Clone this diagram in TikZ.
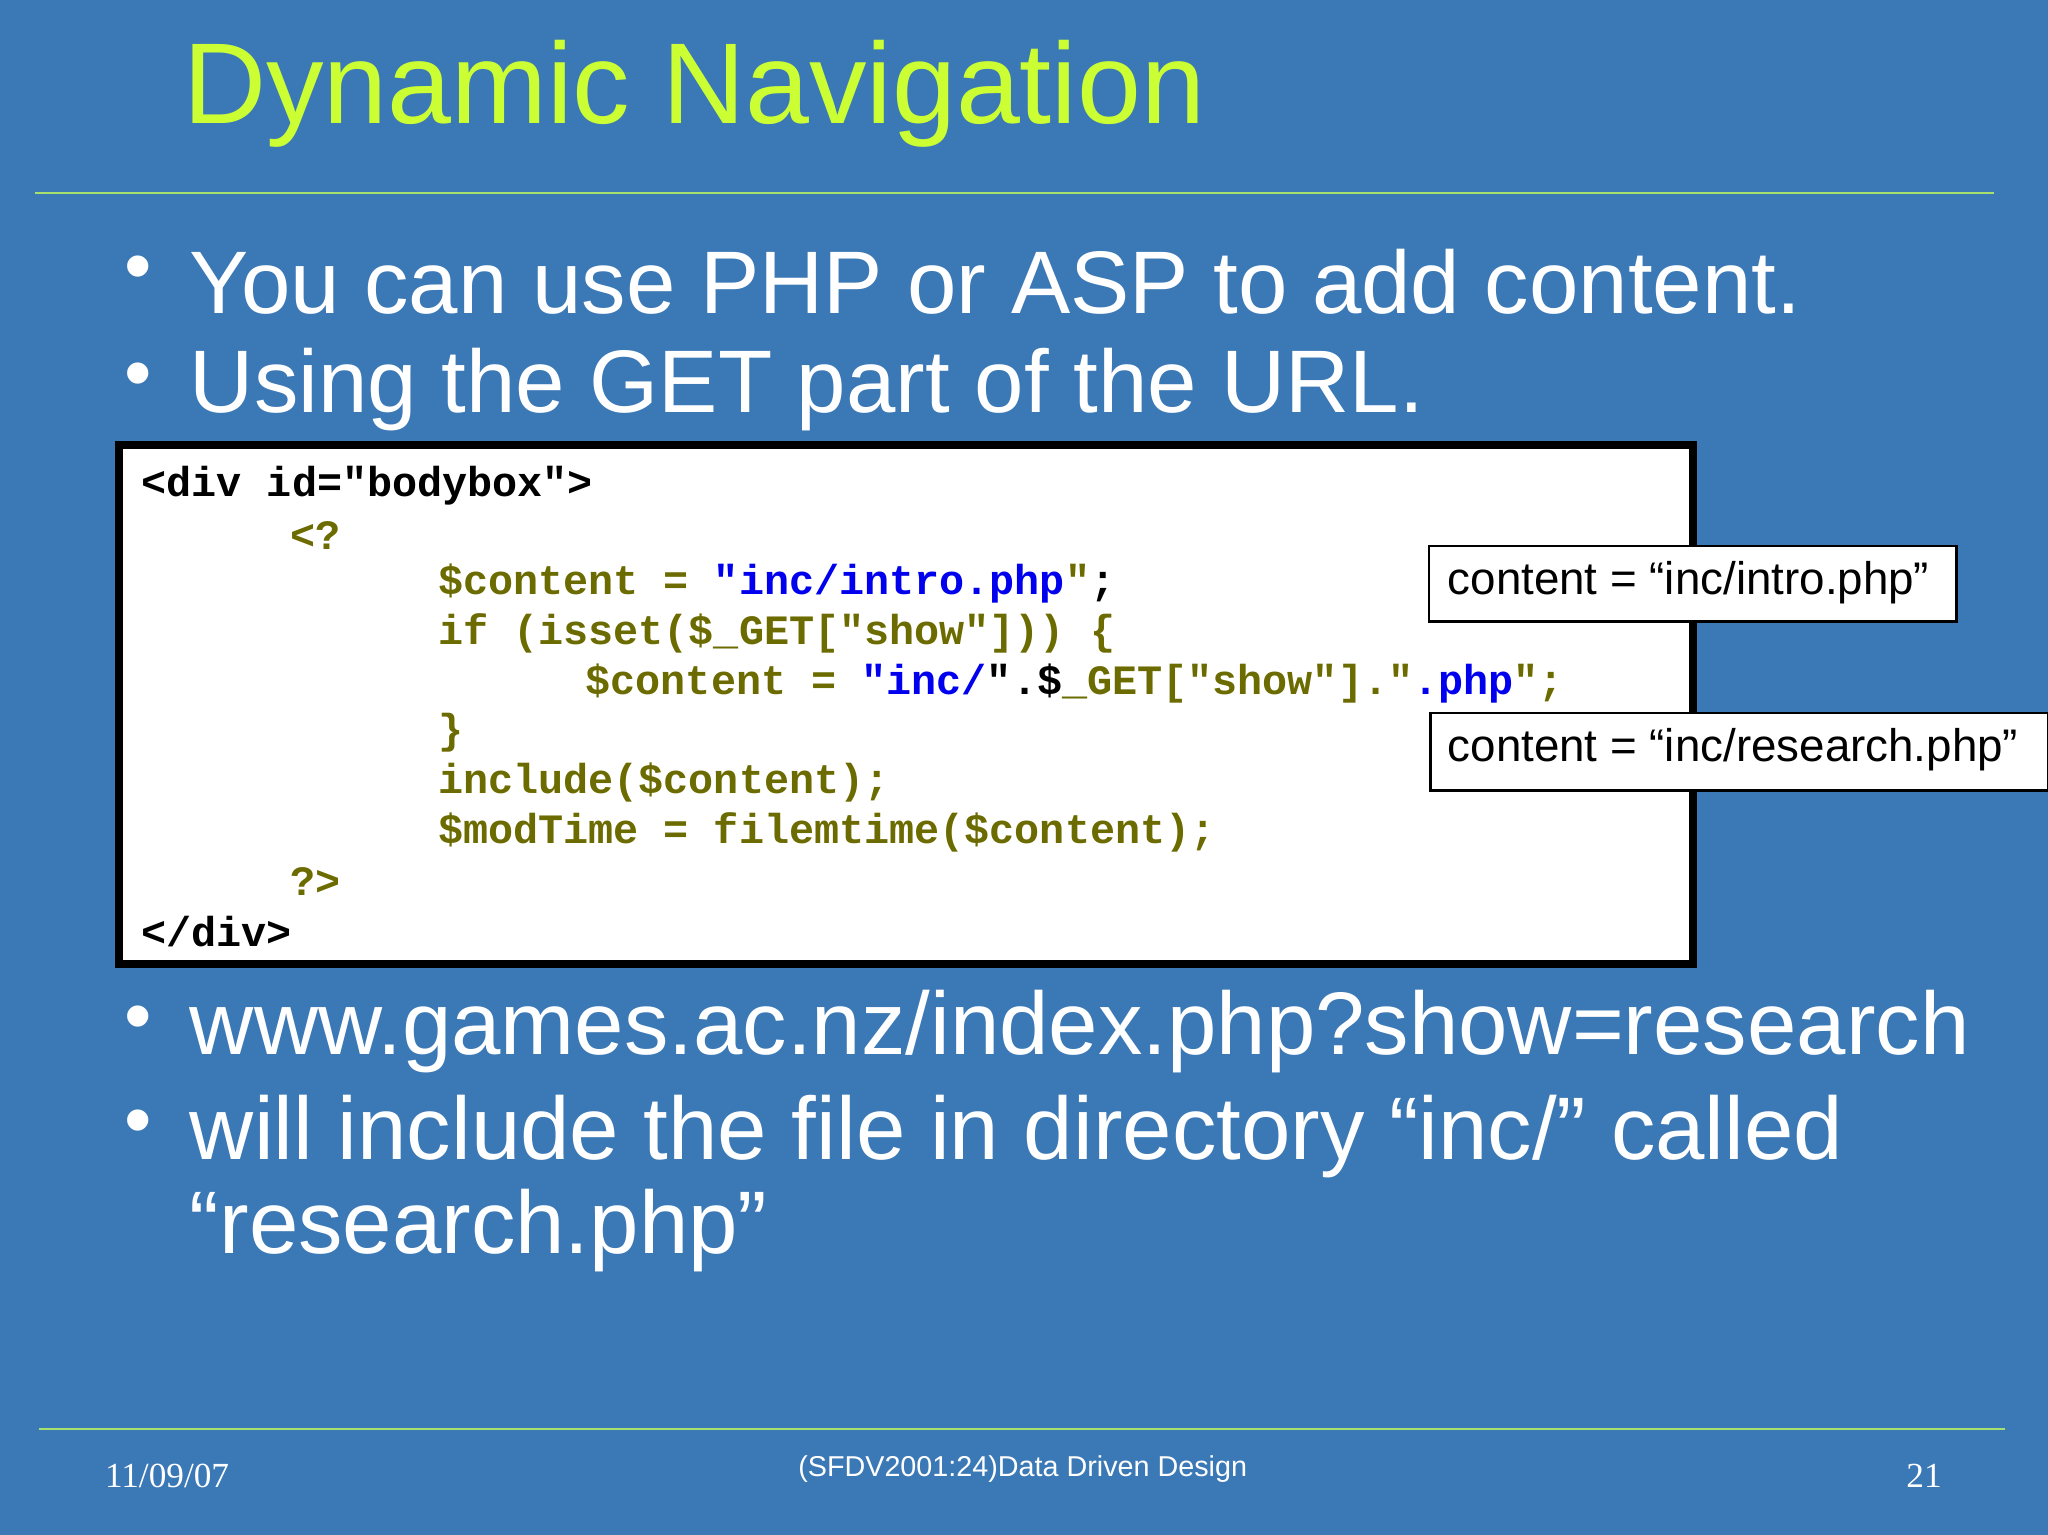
\documentclass[tikz,border=0pt]{standalone}
\usepackage{fontspec}
\setmainfont{Liberation Sans}
\newfontfamily\cmono{Liberation Mono}[BoldFont={* Bold}]
\newfontfamily\tms{Liberation Serif}
\definecolor{bg}{HTML}{3B78B6}
\definecolor{ttl}{HTML}{CCFF33}
\definecolor{ol}{HTML}{6B6B00}
\definecolor{bl}{HTML}{0000EE}
\definecolor{ln}{HTML}{A8E070}
\begin{document}
\begin{tikzpicture}[x=0.5pt,y=-0.5pt,
  code/.style={anchor=west,inner sep=0pt,font=\cmono\bfseries\fontsize{16}{16}\selectfont},
  bul/.style={anchor=west,inner sep=0pt,text=white,font=\fontsize{34}{40}\selectfont},
  note/.style={draw=black,fill=white,line width=1pt,anchor=north west,inner sep=0pt,font=\fontsize{17.5}{20}\selectfont}]
\useasboundingbox (0,0) rectangle (1568,1175);
\fill[bg] (0,0) rectangle (1568,1175);
\node[anchor=west,inner sep=0pt,text=ttl,font=\fontsize{44}{48}\selectfont] (title) at (140,72) {Dynamic Navigation};
\draw[ln,line width=0.8pt] (27,148) -- (1527,148);
\draw[ln,line width=0.8pt] (30,1094) -- (1535,1094);
\node[bul] (b1) at (145,216) {You can use PHP or ASP to add content.};
\node[bul] (b2) at (145,298) {Using the GET part of the URL.};
\node[bul] (b3) at (145,790) {www.games.ac.nz/index.php?show=research};
\node[bul] (b4) at (145,870) {will include the file in directory “inc/” called};
\node[bul] (b5) at (145,942) {“research.php”};
\foreach \y in {216,298,790,870} \node[text=white,font=\fontsize{30}{30}\selectfont] at (106,\y-6) {•};
\draw[black,line width=3pt,fill=white] (91,341) rectangle (1296,738);
\node[code] (c1) at (108,372) {<div id="bodybox">};
\node[code,text=ol] (c2) at (222,410) {<?};
\node[code,text=ol] (c3) at (335,447) {\$content = \textcolor{bl}{"inc/intro.php}"\textcolor{black}{;}};
\node[code,text=ol] (c4) at (335,485) {if (isset(\$\_GET["show"])) \{};
\node[code,text=ol] (c5) at (448,523) {\$content = \textcolor{bl}{"inc/}\textcolor{black}{".\$}\_GET["show"]."\textcolor{bl}{.php}";};
\node[code,text=ol] (c6) at (335,561) {\}};
\node[code,text=ol] (c7) at (335,599) {include(\$content);};
\node[code,text=ol] (c8) at (335,637) {\$modTime = filemtime(\$content);};
\node[code,text=ol] (c9) at (222,675) {?>};
\node[code] (c10) at (108,713) {</div>};
\node[note,minimum width=404pt*0.5,minimum height=58pt*0.5] (n1) at (1093,417) {};
\node[anchor=west,inner sep=0pt,font=\fontsize{17.5}{20}\selectfont] at (1108,446) {content = “inc/intro.php”};
\node[note,minimum width=473pt*0.5,minimum height=59pt*0.5] (n2) at (1094,545) {};
\node[anchor=west,inner sep=0pt,font=\fontsize{17.5}{20}\selectfont] at (1108,574) {content = “inc/research.php”};
\node[anchor=west,inner sep=0pt,text=white,font=\tms\fontsize{13.5}{14}\selectfont] (date) at (80,1130) {11/09/07};
\node[inner sep=0pt,text=white,font=\fontsize{11}{12}\selectfont] (foot) at (783,1125) {(SFDV2001:24)Data Driven Design};
\node[anchor=east,inner sep=0pt,text=white,font=\tms\fontsize{13.5}{14}\selectfont] (num) at (1487,1130) {21};
\end{tikzpicture}
\end{document}
